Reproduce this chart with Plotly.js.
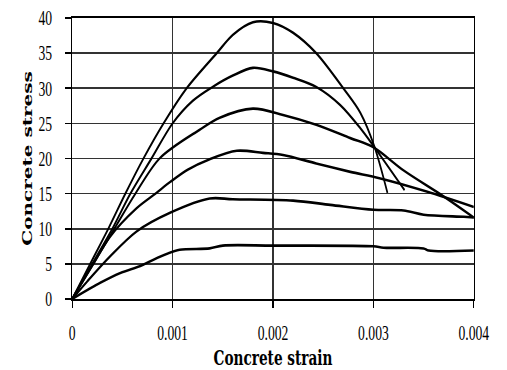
<!DOCTYPE html>
<html>
<head>
<meta charset="utf-8">
<script src="https://cdn.plot.ly/plotly-3.0.1.min.js"></script>
<style>
  html, body { margin: 0; padding: 0; background: #fff; overflow: hidden; }
  #wrap { width: 507px; height: 370px; overflow: hidden; }
  #chart { width: 780px; height: 370px; transform: scaleX(0.65); transform-origin: 0 0; }
</style>
</head>
<body>
<div id="wrap"><div id="chart"></div></div>
<script>
// Concrete stress-strain curves
const strain1 = [0, 0.00018, 0.00036, 0.00053, 0.00071, 0.00091, 0.00114, 0.00144, 0.0016, 0.0018, 0.002, 0.0022, 0.00243, 0.0027, 0.00287, 0.00301, 0.00314];
const stress1 = [0, 5, 10, 15, 20, 25, 30, 35, 37.6, 39.4, 39.3, 37.9, 35, 30, 26.5, 21.7, 15.1];

const strain2 = [0, 0.0002, 0.0004, 0.00058, 0.00079, 0.001, 0.0012, 0.0014, 0.0016, 0.0018, 0.002, 0.0022, 0.00243, 0.00267, 0.00287, 0.003, 0.00331];
const stress2 = [0, 5, 10, 15, 20, 25, 28.2, 30.2, 31.8, 32.9, 32.4, 31.5, 30.2, 27.6, 24.3, 21.8, 15.5];

const strain3 = [0, 0.00021, 0.00042, 0.00063, 0.00087, 0.00127, 0.00147, 0.0018, 0.0021, 0.00243, 0.00277, 0.003, 0.0033, 0.0037, 0.004];
const stress3 = [0, 5, 10, 15, 20, 24.1, 25.8, 27.1, 26.2, 24.8, 22.9, 21.6, 18.3, 14.6, 11.6];

const strain4 = [0, 0.0002, 0.00038, 0.00064, 0.00083, 0.00098, 0.00115, 0.00137, 0.00164, 0.0019, 0.0021, 0.00243, 0.00277, 0.00306, 0.00353, 0.004];
const stress4 = [0, 4.7, 8.9, 12.9, 15, 16.7, 18.4, 19.9, 21.1, 20.8, 20.5, 19.3, 18.1, 17.2, 15.3, 13.1];

const strain5 = [0, 0.00015, 0.00038, 0.00064, 0.00098, 0.00137, 0.0016, 0.0022, 0.00257, 0.003, 0.0033, 0.0035, 0.0039, 0.004];
const stress5 = [0, 2.5, 6.1, 9.6, 12.3, 14.3, 14.2, 14.0, 13.4, 12.7, 12.6, 12.0, 11.7, 11.6];

const strain6 = [0, 0.00028, 0.00048, 0.00068, 0.00081, 0.00094, 0.00107, 0.00137, 0.0015, 0.002, 0.003, 0.0031, 0.0035, 0.00355, 0.004];
const stress6 = [0, 2.3, 3.7, 4.7, 5.6, 6.4, 7.0, 7.2, 7.6, 7.6, 7.5, 7.3, 7.2, 6.9, 6.9];

const xTickVals = [0, 0.001, 0.002, 0.003, 0.004];
const xTickText = ["0", "0.001", "0.002", "0.003", "0.004"];
const yTickVals = [0, 5, 10, 15, 20, 25, 30, 35, 40];
const yTickText = ["0", "5", "10", "15", "20", "25", "30", "35", "40"];

const xTitle = "Concrete strain";
const yTitle = "Concrete stress";

const series = [
  [strain1, stress1], [strain2, stress2], [strain3, stress3],
  [strain4, stress4], [strain5, stress5], [strain6, stress6]
];

const traces = series.map(([x, y]) => ({
  x: x, y: y, type: "scatter", mode: "lines",
  line: { color: "#000", width: 2.6, shape: "spline", smoothing: 0.9 },
  hoverinfo: "skip"
}));

const tickFont = { family: "Liberation Serif, Times New Roman, serif", size: 21, color: "#000" };

const layout = {
  width: 780, height: 370,
  margin: { l: 111, r: 50.5, t: 18, b: 71, pad: 0 },
  paper_bgcolor: "#fff", plot_bgcolor: "#fff",
  showlegend: false,
  xaxis: {
    range: [0, 0.004], tickmode: "array", tickvals: xTickVals, ticktext: xTickText,
    showgrid: true, gridcolor: "#333", gridwidth: 1.6,
    showline: true, linecolor: "#000", linewidth: 1.6, mirror: true,
    ticks: "outside", ticklen: 7, tickwidth: 1.6, tickcolor: "#000",
    ticklabelstandoff: 7, tickfont: tickFont, zeroline: false,
    title: { text: "<b>" + xTitle + "</b>", font: { family: "DejaVu Serif, serif", size: 21, color: "#000" }, standoff: 11 }
  },
  yaxis: {
    range: [0, 40], tickmode: "array", tickvals: yTickVals, ticktext: yTickText,
    showgrid: true, gridcolor: "#333", gridwidth: 1.6,
    showline: true, linecolor: "#000", linewidth: 1.6, mirror: true,
    ticks: "outside", ticklen: 9, tickwidth: 1.6, tickcolor: "#000",
    ticklabelstandoff: 16, tickfont: tickFont, zeroline: false,
    title: { text: "<b>" + yTitle + "</b>", font: { family: "DejaVu Serif, serif", size: 20, color: "#000" }, standoff: 4 }
  }
};

Plotly.newPlot("chart", traces, layout, { staticPlot: true, displayModeBar: false });
</script>
</body>
</html>
